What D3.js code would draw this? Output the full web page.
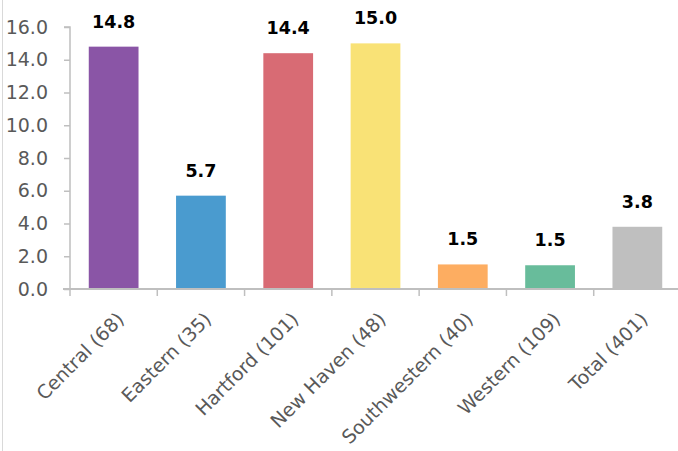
<!DOCTYPE html>
<html><head><meta charset="utf-8">
<script src="https://cdn.jsdelivr.net/npm/d3@7"></script>
<style>body{margin:0;background:#fff}svg{display:block}</style>
</head><body>
<script>
const categories = ["Central (68)","Eastern (35)","Hartford (101)","New Haven (48)","Southwestern (40)","Western (109)","Total (401)"];
const values = [14.8, 5.7, 14.4, 15.0, 1.5, 1.45, 3.8];
const valueLabels = ["14.8","5.7","14.4","15.0","1.5","1.5","3.8"];
const colors = ["#8a55a6","#4a9bcf","#d86b74","#f9e276","#fdad61","#68bc9b","#bfbfbf"];
const yTicks = [0,2,4,6,8,10,12,14,16];

const W = 678, H = 451;
const svg = d3.select("body").append("svg").attr("width", W).attr("height", H);
svg.append("line").attr("x1",2.5).attr("x2",2.5).attr("y1",0).attr("y2",H).attr("stroke","#d9d9d9").attr("stroke-width",1);

const x = d3.scaleBand().domain(categories).range([70, 681]).paddingInner(0.43).paddingOuter(0.215);
const y = d3.scaleLinear().domain([0,16]).range([289, 27]);

const axisColor = "#bfbfbf";
const yAxis = svg.append("g").attr("transform","translate(70,0)")
  .call(d3.axisLeft(y).tickValues(yTicks).tickFormat(d3.format(".1f")).tickSize(6).tickPadding(6));
yAxis.select(".domain").attr("stroke",axisColor).attr("stroke-width",1.5).attr("d",`M-6,${y(16)}H0V${y(0)}`);
yAxis.selectAll(".tick line").attr("stroke",axisColor).attr("stroke-width",1.5);
yAxis.selectAll(".tick text").attr("fill","#595959").style("font-family","DejaVu Sans").style("font-size","19px").attr("x",-22);

svg.selectAll("rect.bar").data(categories).enter().append("rect")
  .attr("x", d => x(d)).attr("width", x.bandwidth())
  .attr("y", (d,i) => y(values[i])).attr("height", (d,i) => y(0) - y(values[i]))
  .attr("fill", (d,i) => colors[i]);

const xAxis = svg.append("g").attr("transform",`translate(0,${y(0)})`);
xAxis.append("line").attr("x1",63).attr("x2",W).attr("y1",0).attr("y2",0).attr("stroke",axisColor).attr("stroke-width",2);
const step = x.step();
xAxis.selectAll("line.tk").data(d3.range(categories.length)).enter().append("line")
  .attr("x1", i => 70 + i*step).attr("x2", i => 70 + i*step).attr("y1",0).attr("y2",7)
  .attr("stroke",axisColor).attr("stroke-width",1.5);
xAxis.selectAll("text.cat").data(categories).enter().append("text")
  .attr("transform", d => `translate(${x(d)+x.bandwidth()/2+2},${22}) rotate(-45)`)
  .attr("text-anchor","end").attr("dy","0.71em")
  .attr("fill","#595959").style("font-family","DejaVu Sans").style("font-size","19px")
  .text(d => d);

svg.selectAll("text.val").data(categories).enter().append("text")
  .attr("x", d => x(d)+x.bandwidth()/2).attr("y",(d,i) => y(values[i]) - 19)
  .attr("text-anchor","middle").attr("fill","#000")
  .style("font-family","DejaVu Sans").style("font-weight","bold").style("font-size","17.5px")
  .text((d,i) => valueLabels[i]);
</script>
</body></html>
